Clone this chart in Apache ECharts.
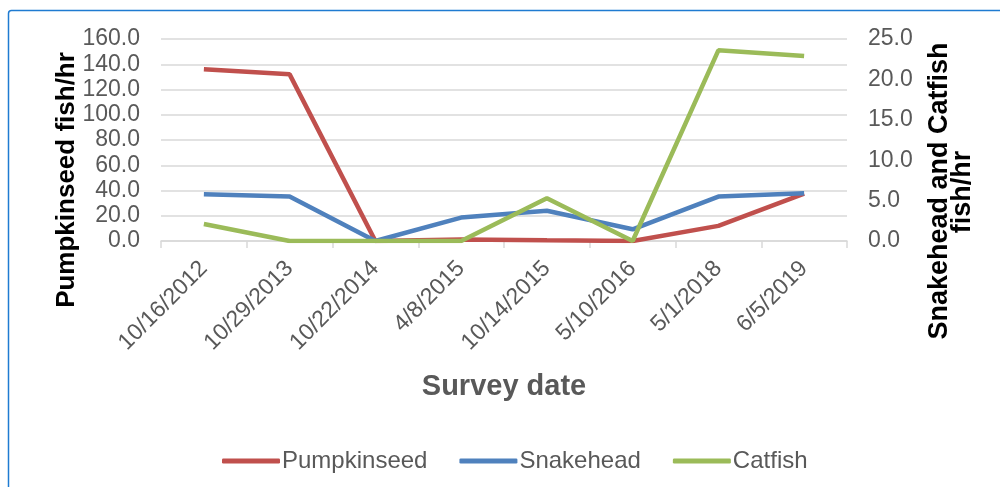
<!DOCTYPE html>
<html><head><meta charset="utf-8">
<script src="https://cdn.jsdelivr.net/npm/echarts@6/dist/echarts.min.js"></script>
<style>html,body{margin:0;padding:0;background:#fff}#c{width:1000px;height:487px}</style>
</head><body><div id="c"></div>
<script>
var categories = ['10/16/2012','10/29/2013','10/22/2014','4/8/2015','10/14/2015','5/10/2016','5/1/2018','6/5/2019'];
var pumpkinseed = [136, 132, 0, 1.2, 0.5, 0, 12, 37.5];
var snakehead = [5.8, 5.5, 0, 2.9, 3.75, 1.45, 5.5, 5.9];
var catfish = [2.1, 0, 0, 0, 5.3, 0, 23.6, 22.9];
var leftTicks = {min: 0, max: 160, interval: 20};
var rightTicks = {min: 0, max: 25, interval: 5};

var chart = echarts.init(document.getElementById('c'));
var font = 'Liberation Sans, Arial, sans-serif';
var gray = '#595959';
chart.setOption({
  animation: false,
  textStyle: {fontFamily: font},
  grid: {left: 161, right: 153, top: 39, bottom: 246, containLabel: false},
  graphic: [
    {type: 'rect', shape: {x: 8.5, y: 10.5, width: 1010, height: 500, r: 3}, style: {fill: 'none', stroke: '#1f7bd1', lineWidth: 1.5}},
    {type: 'text', x: 67, y: 180, rotation: Math.PI/2, style: {text: 'Pumpkinseed fish/hr', font: 'bold 26px ' + font, fill: '#000', textAlign: 'center', textVerticalAlign: 'middle'}},
    {type: 'text', x: 940, y: 191, rotation: Math.PI/2, style: {text: 'Snakehead and Catfish', font: 'bold 27px ' + font, fill: '#000', textAlign: 'center', textVerticalAlign: 'middle'}},
    {type: 'text', x: 963, y: 192, rotation: Math.PI/2, style: {text: 'fish/hr', font: 'bold 27px ' + font, fill: '#000', textAlign: 'center', textVerticalAlign: 'middle'}}
  ],
  legend: {
    top: 444, left: 217, icon: 'roundRect', itemWidth: 58, itemHeight: 5, itemGap: 32,
    textStyle: {fontSize: 24, color: gray, fontFamily: font, padding: [0,0,0,-3]},
    data: ['Pumpkinseed','Snakehead','Catfish']
  },
  xAxis: {
    type: 'category', data: categories, boundaryGap: true,
    name: 'Survey date', nameLocation: 'middle', nameGap: 131,
    nameTextStyle: {fontSize: 29, fontWeight: 'bold', color: gray, fontFamily: font},
    axisLine: {lineStyle: {color: '#d9d9d9', width: 1.5}},
    axisTick: {show: true, length: 7, lineStyle: {color: '#d9d9d9', width: 1.5}},
    axisLabel: {rotate: 45, fontSize: 23, color: gray, margin: 24, interval: 0, fontFamily: font}
  },
  yAxis: [
    {type: 'value', min: leftTicks.min, max: leftTicks.max, interval: leftTicks.interval, position: 'left',
     axisLine: {show: false}, axisTick: {show: false},
     splitLine: {lineStyle: {color: '#d9d9d9', width: 1.5}},
     axisLabel: {fontSize: 23, color: gray, margin: 21, fontFamily: font, formatter: function(v){return v.toFixed(1);}}},
    {type: 'value', min: rightTicks.min, max: rightTicks.max, interval: rightTicks.interval, position: 'right',
     axisLine: {show: false}, axisTick: {show: false}, splitLine: {show: false},
     axisLabel: {fontSize: 23, color: gray, margin: 21, fontFamily: font, formatter: function(v){return v.toFixed(1);}}}
  ],
  series: [
    {name: 'Pumpkinseed', type: 'line', yAxisIndex: 0, data: pumpkinseed, symbol: 'none', lineStyle: {color: '#c0504d', width: 4.5}, itemStyle: {color: '#c0504d'}, z: 2},
    {name: 'Snakehead', type: 'line', yAxisIndex: 1, data: snakehead, symbol: 'none', lineStyle: {color: '#4f81bd', width: 4.5}, itemStyle: {color: '#4f81bd'}, z: 3},
    {name: 'Catfish', type: 'line', yAxisIndex: 1, data: catfish, symbol: 'none', lineStyle: {color: '#9bbb59', width: 4.5}, itemStyle: {color: '#9bbb59'}, z: 4}
  ]
});
</script></body></html>
